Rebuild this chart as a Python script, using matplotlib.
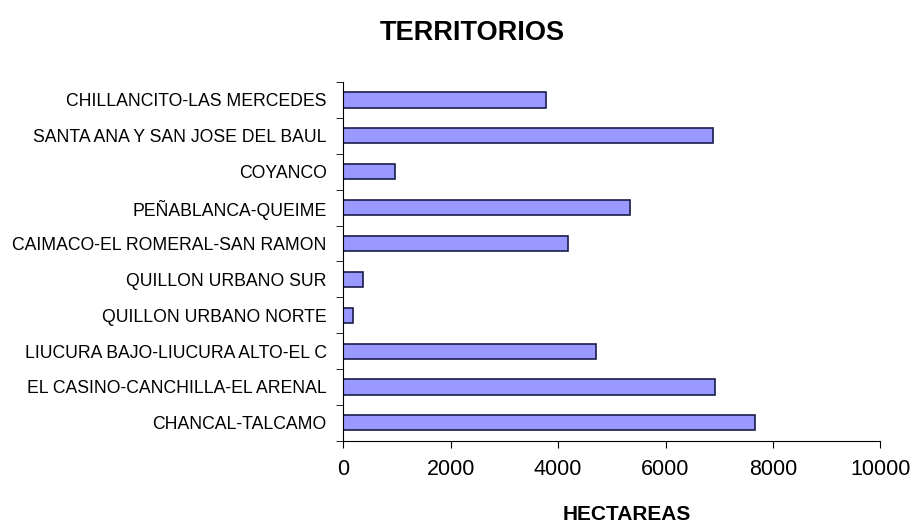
import matplotlib.pyplot as plt
import numpy as np

# Data (bottom to top, as drawn)
territorios = [
    "CHANCAL-TALCAMO",
    "EL CASINO-CANCHILLA-EL ARENAL",
    "LIUCURA BAJO-LIUCURA ALTO-EL C",
    "QUILLON URBANO NORTE",
    "QUILLON URBANO SUR",
    "CAIMACO-EL ROMERAL-SAN RAMON",
    "PEÑABLANCA-QUEIME",
    "COYANCO",
    "SANTA ANA Y SAN JOSE DEL BAUL",
    "CHILLANCITO-LAS MERCEDES",
]
hectareas = [7670, 6920, 4710, 180, 360, 4190, 5330, 970, 6890, 3780]
x_ticks = [0, 2000, 4000, 6000, 8000, 10000]

plt.rcParams['font.family'] = ['Liberation Sans', 'DejaVu Sans']

fig = plt.figure(figsize=(9.18, 5.26), dpi=100)
ax = fig.add_axes([0.374, 0.162, 0.585, 0.682])

pos = np.arange(len(territorios))
ax.barh(pos, hectareas, height=0.42, color='#9999ff', edgecolor='#1c1c4c', linewidth=1.2)

ax.set_xlim(0, 10000)
ax.set_ylim(-0.5, len(territorios) - 0.5)
ax.set_xticks(x_ticks)
ax.set_xticklabels([str(t) for t in x_ticks], fontsize=15.5)

# labels centered on bars, tick marks between categories
ax.set_yticks(pos)
ax.set_yticklabels(territorios, fontsize=12.7)
ax.tick_params(axis='y', which='major', length=0, pad=12)
ax.set_yticks(np.arange(-0.5, len(territorios)), minor=True)
ax.tick_params(axis='y', which='minor', length=5, direction='out')
ax.tick_params(axis='x', length=5, direction='out', pad=8)

ax.spines['top'].set_visible(False)
ax.spines['right'].set_visible(False)

ax.set_xlabel("HECTAREAS", fontsize=15, fontweight='bold')
ax.xaxis.set_label_coords(0.527, -0.18)
fig.text(0.514, 0.937, "TERRITORIOS", fontsize=19.5, fontweight='bold', ha='center', va='center')

fig.savefig("out.png", dpi=100)
